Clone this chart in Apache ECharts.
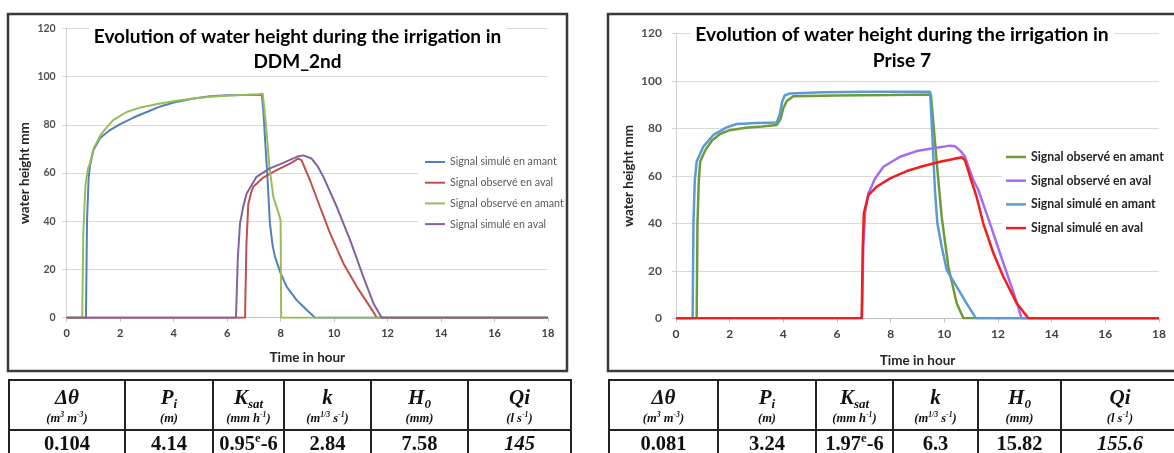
<!DOCTYPE html>
<html>
<head>
<meta charset="utf-8">
<script src="https://cdn.jsdelivr.net/npm/echarts@6/dist/echarts.min.js"></script>
<style>
html,body{margin:0;padding:0;background:#fff;overflow:hidden;width:1174px;height:453px;}
#c{position:absolute;left:0;top:0;width:1174px;height:453px;}
table.p{position:absolute;top:379px;border-collapse:collapse;table-layout:fixed;font-family:"Liberation Serif","DejaVu Serif",serif;font-weight:bold;color:#111;}
table.p td{border:2px solid #222;text-align:center;vertical-align:top;padding:0;overflow:hidden;white-space:nowrap;}
table.p tr.h td{height:48px;}
table.p tr.v td{height:30px;}
.sym{font-style:italic;font-size:21px;line-height:24px;padding-top:4px;}
.sym sub{font-size:13px;vertical-align:-4px;line-height:0;}
.unit{font-style:italic;font-size:12.5px;line-height:15px;padding-top:2px;}
.unit sup,.val sup{font-size:0.62em;vertical-align:super;line-height:0;}
.val{font-size:20.5px;line-height:24px;}
.it{font-style:italic;}
</style>
</head>
<body>
<div id="c"></div>
<table class="p" id="t1" style="left:8px;width:562px;"></table>
<table class="p" id="t2" style="left:608px;width:570px;"></table>
<script>
// ---------------- DATA ----------------
const xTicks = [0, 2, 4, 6, 8, 10, 12, 14, 16, 18];
const yTicks = [0, 20, 40, 60, 80, 100, 120];

const titleLeft = 'Evolution of water height during the irrigation in\nDDM_2nd';
const titleRight = 'Evolution of water height during the irrigation in\nPrise 7';
const xName = 'Time in hour';
const yName = 'water height mm';

const legendLeft = ['Signal simulé en amant', 'Signal observé en aval', 'Signal observé en amant', 'Signal simulé en aval'];
const legendRight = ['Signal observé en amant', 'Signal observé en aval', 'Signal simulé en amant', 'Signal simulé en aval'];

// DDM_2nd  [time (h), water height (mm)]
const ddmSimAmont = [[0,0],[0.72,0],[0.76,40],[0.82,58],[0.87,63],[1.0,69.5],[1.25,74.5],[1.62,77.8],[2.0,80.3],[2.5,83],[3.0,85.3],[3.5,87.6],[4.0,89.2],[4.7,90.8],[5.36,91.8],[6.0,92.2],[7.3,92.4],[7.36,85],[7.42,73.6],[7.5,59.8],[7.6,39.1],[7.7,30],[7.79,25.3],[7.98,19],[8.23,12.8],[8.6,7.3],[9.0,3],[9.29,0],[18,0]];
const ddmObsAval = [[0,0],[6.67,0],[6.72,30],[6.79,47],[6.9,52],[6.98,54.3],[7.35,58.1],[7.85,61.2],[8.35,63.9],[8.66,66],[8.78,65.3],[9.1,57],[9.47,46],[9.85,35],[10.35,22.5],[10.85,12.8],[11.34,4.6],[11.6,0],[18,0]];
const ddmObsAmont = [[0,0],[0.58,0],[0.62,35],[0.7,55],[0.8,62],[0.87,64],[1.0,70],[1.25,75.5],[1.5,79],[1.74,81.9],[2.24,85.3],[2.8,87.3],[3.49,88.8],[4.1,90],[4.73,90.9],[5.36,91.6],[6.3,92.2],[7.23,92.7],[7.33,93],[7.45,80.5],[7.58,62.6],[7.73,50],[7.95,42.5],[8.0,40.3],[8.02,0],[18,0]];
const ddmSimAval = [[0,0],[6.33,0],[6.4,25],[6.48,38.9],[6.6,46],[6.73,51.5],[7.1,58.4],[7.6,61.9],[8.1,64.2],[8.6,66.7],[8.85,67.3],[9.16,66],[9.4,62.5],[9.6,58.4],[10.1,46],[10.6,32.2],[11.09,17],[11.47,6],[11.78,0],[18,0]];

// Prise 7
const p7ObsAmont = [[0,0],[0.77,0],[0.8,40],[0.85,58],[0.9,66],[1.1,71],[1.35,75],[1.64,77.6],[2.0,79.2],[2.6,80.2],[3.2,80.8],[3.75,81.4],[3.9,84],[4.0,88.5],[4.13,91.5],[4.37,93.5],[6,93.8],[8,94],[9.5,94.2],[9.57,85],[9.72,65.3],[9.9,42.8],[10.15,21.7],[10.46,6.3],[10.71,0],[18,0]];
const p7ObsAval = [[0,0],[6.93,0],[6.98,30],[7.05,45],[7.17,52.6],[7.42,58.9],[7.73,63.8],[8.35,68],[8.97,70.4],[9.59,71.6],[10.21,72.7],[10.4,72.4],[10.6,70.5],[10.77,68],[11.08,58.2],[11.27,54],[11.7,40],[12.2,23.2],[12.63,9.1],[12.88,0],[18,0]];
const p7SimAmont = [[0,0],[0.62,0],[0.65,40],[0.7,58],[0.77,66],[1.02,72.3],[1.39,77.2],[1.89,80.4],[2.26,81.8],[3.0,82.2],[3.75,82.4],[3.87,86],[3.95,91],[4.05,93.8],[4.25,94.7],[5.5,95.2],[7.23,95.4],[9.47,95.4],[9.53,82],[9.59,68],[9.65,54],[9.74,40],[9.9,30.2],[10.09,20.3],[10.46,13.3],[10.83,6.3],[11.18,0],[18,0]];
const p7SimAval = [[0,0],[6.92,0],[6.96,30],[7.0,44.2],[7.17,51.9],[7.48,55.4],[7.98,58.9],[8.6,62],[9.22,64.1],[9.84,65.9],[10.3,67],[10.65,67.8],[10.77,66.5],[10.96,59.6],[11.2,51.2],[11.45,40],[11.83,27.4],[12.2,17.5],[12.7,6.3],[13.13,0],[18,0]];

// Parameter tables
const tableHeads = [
  ['Δθ', '(m<sup>3</sup> m<sup>-3</sup>)'],
  ['P<sub>i</sub>', '(m)'],
  ['K<sub>sat</sub>', '(mm h<sup>-1</sup>)'],
  ['k', '(m<sup>1/3</sup> s<sup>-1</sup>)'],
  ['H<sub>0</sub>', '(mm)'],
  ['Qi', '(l s<sup>-1</sup>)']
];
const tableLeftValues = ['0.104', '4.14', '0.95<sup>e</sup>-6', '2.84', '7.58', '145'];
const tableRightValues = ['0.081', '3.24', '1.97<sup>e</sup>-6', '6.3', '15.82', '155.6'];
const colWidthsLeft = [116, 88, 71, 87, 97, 103];
const colWidthsRight = [109, 98, 77, 85, 83, 118];

// ---------------- TABLES ----------------
function buildTable(id, widths, values) {
  const t = document.getElementById(id);
  let html = '<colgroup>' + widths.map(w => '<col style="width:' + w + 'px">').join('') + '</colgroup>';
  html += '<tr class="h">' + tableHeads.map(h => '<td><div class="sym">' + h[0] + '</div><div class="unit">' + h[1] + '</div></td>').join('') + '</tr>';
  html += '<tr class="v">' + values.map((v, i) => '<td><div class="val' + (i === 5 ? ' it' : '') + '">' + v + '</div></td>').join('') + '</tr>';
  t.innerHTML = html;
}
buildTable('t1', colWidthsLeft, tableLeftValues);
buildTable('t2', colWidthsRight, tableRightValues);

// ---------------- CHART ----------------
const colL = {simAmont:'#4F81BD', obsAval:'#C0504D', obsAmont:'#9BBB59', simAval:'#8064A2'};
const colR = {obsAmont:'#6E9B3A', obsAval:'#A46BF5', simAmont:'#5B9BD5', simAval:'#F01E1E'};
const legColsL = [colL.simAmont, colL.obsAval, colL.obsAmont, colL.simAval];
const legColsR = [colR.obsAmont, colR.obsAval, colR.simAmont, colR.simAval];

function xAxisCfg(grid, fs, gap) {
  return {
    type:'value', gridIndex:grid, min:0, max:18, interval:2,
    name:xName, nameLocation:'middle', nameGap:gap,
    nameTextStyle:{fontFamily:'Lato', fontWeight:'bold', fontSize:13.5, color:'#262626'},
    axisLine:{show:true, lineStyle:{color:'#BFBFBF', width:1}},
    axisTick:{show:true, length:4, lineStyle:{color:'#BFBFBF'}},
    axisLabel:{fontFamily:'Lato', fontWeight:'bold', fontSize:fs, color:'#404040', margin:10},
    splitLine:{show:false}
  };
}
function yAxisCfg(grid, fs, gap, margin) {
  return {
    type:'value', gridIndex:grid, min:0, max:120, interval:20,
    name:yName, nameLocation:'middle', nameGap:gap,
    nameTextStyle:{fontFamily:'Lato', fontWeight:'bold', fontSize:13.5, color:'#262626'},
    axisLine:{show:true, lineStyle:{color:'#D0D0D0', width:1}},
    axisTick:{show:true, length:4, lineStyle:{color:'#D0D0D0'}},
    axisLabel:{fontFamily:'Lato', fontWeight:'bold', fontSize:fs, color:'#505050', margin:margin},
    splitLine:{show:true, lineStyle:{color:'#D9D9D9', width:1.2}}
  };
}
function ser(name, data, color, xi, w) {
  return {type:'line', name:name, data:data, xAxisIndex:xi, yAxisIndex:xi, symbol:'none',
    lineStyle:{color:color, width:w}, itemStyle:{color:color}, emphasis:{disabled:true}, animation:false};
}

const chart = echarts.init(document.getElementById('c'));
chart.setOption({
  animation:false,
  backgroundColor:'#fff',
  title:[
    {text:titleLeft, left:292.5, top:24, textAlign:'center', backgroundColor:'#fff', padding:[0,5],
     textStyle:{fontFamily:'Lato', fontWeight:'bold', fontSize:19, lineHeight:25, color:'#000'}},
    {text:titleRight, left:897, top:22, textAlign:'center', backgroundColor:'#fff', padding:[0,5],
     textStyle:{fontFamily:'Lato', fontWeight:'bold', fontSize:19.3, lineHeight:26, color:'#000'}}
  ],
  legend:[
    {orient:'vertical', left:418, top:146, backgroundColor:'#fff', padding:[10,20,14,7],
     itemWidth:20, itemHeight:2, itemGap:8.7, selectedMode:false, icon:'rect',
     textStyle:{fontFamily:'Lato', fontSize:10.7, lineHeight:12, color:'#595959'},
     data:legendLeft.map((n,i)=>({name:n, icon:'rect', itemStyle:{color:legColsL[i]}, lineStyle:{color:legColsL[i]}}))},
    {orient:'vertical', left:1002, top:140, backgroundColor:'#fff', padding:[10,20,14,4],
     itemWidth:20, itemHeight:2.5, itemGap:9.7, selectedMode:false, icon:'rect',
     textStyle:{fontFamily:'Lato', fontWeight:'bold', fontSize:12.3, lineHeight:14, color:'#262626'},
     data:legendRight.map((n,i)=>({name:n, icon:'rect', itemStyle:{color:legColsR[i]}, lineStyle:{color:legColsR[i]}}))}
  ],
  grid:[
    {left:66.7, right:1174-548, top:28.3, bottom:453-317.7},
    {left:676, right:1174-1159, top:33.3, bottom:453-318.3}
  ],
  xAxis:[xAxisCfg(0, 11, 33), xAxisCfg(1, 12, 35)],
  yAxis:[yAxisCfg(0, 10.5, 35, 11), yAxisCfg(1, 12, 40, 14)],
  series:[
    ser(legendLeft[0], ddmSimAmont, colL.simAmont, 0, 2),
    ser(legendLeft[1], ddmObsAval, colL.obsAval, 0, 2),
    ser(legendLeft[2], ddmObsAmont, colL.obsAmont, 0, 2),
    ser(legendLeft[3], ddmSimAval, colL.simAval, 0, 2),
    ser(legendRight[0], p7ObsAmont, colR.obsAmont, 1, 2.5),
    ser(legendRight[1], p7ObsAval, colR.obsAval, 1, 2.5),
    ser(legendRight[2], p7SimAmont, colR.simAmont, 1, 2.5),
    ser(legendRight[3], p7SimAval, colR.simAval, 1, 2.5)
  ],
  graphic:[
    {type:'rect', shape:{x:8, y:14, width:559, height:357}, style:{fill:'none', stroke:'#3a3a3a', lineWidth:2.5}, silent:true, z:50},
    {type:'rect', shape:{x:608, y:14, width:620, height:357}, style:{fill:'none', stroke:'#3a3a3a', lineWidth:2.5}, silent:true, z:50}
  ]
});
</script>
</body>
</html>
